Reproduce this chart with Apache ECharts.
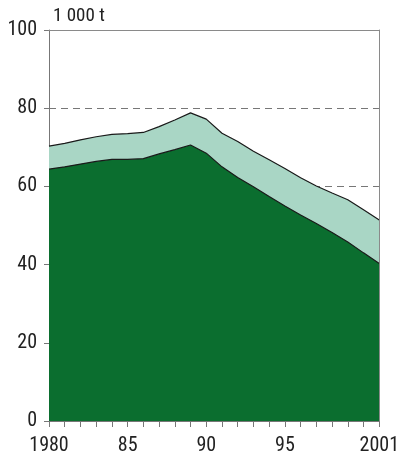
<!DOCTYPE html>
<html><head><meta charset="utf-8">
<script src="https://cdn.jsdelivr.net/npm/echarts@6/dist/echarts.min.js"></script>
<style>html,body{margin:0;padding:0;background:#fff}#c{width:402px;height:457px}</style>
</head><body><div id="c"></div>
<script>
const years = [1980,1981,1982,1983,1984,1985,1986,1987,1988,1989,1990,1991,1992,1993,1994,1995,1996,1997,1998,1999,2000,2001];
const lowerValues = [64.4,65.0,65.7,66.4,66.9,66.9,67.1,68.3,69.4,70.6,68.5,65.0,62.3,59.9,57.4,55.0,52.7,50.5,48.2,45.8,43.0,40.3];
const totalValues = [70.3,71.0,71.9,72.7,73.3,73.5,73.8,75.3,77.0,78.8,77.2,73.6,71.5,69.0,66.8,64.6,62.2,60.1,58.3,56.6,54.0,51.4];
const xTickLabels = {1980:'1980',1985:'85',1990:'90',1995:'95',2001:'2001'};
const yTicks = [0,20,40,60,80,100];
const dashedLevels = [20,40,60,80];
const unitLabel = '1 000 t';

const FONT = '"Liberation Sans Narrow","Roboto Condensed","DejaVu Sans Condensed",sans-serif';
const chart = echarts.init(document.getElementById('c'), null, {renderer:'canvas'});
const border = {show:true,onZero:false,lineStyle:{color:'#8a8a8a',width:1}};
chart.setOption({
  animation:false,
  grid:{left:49,right:22,top:30,bottom:36},
  graphic:[{type:'text',left:53,top:7,style:{text:unitLabel,font:'19px '+FONT,fill:'#222'}}],
  xAxis:[{type:'value',min:years[0],max:years[years.length-1],interval:1,
    axisLine:{show:true,onZero:false,lineStyle:{color:'#777',width:1}},
    axisTick:{show:true,length:6,lineStyle:{color:'#777'}},
    splitLine:{show:false},
    axisLabel:{show:true,showMaxLabel:true,showMinLabel:true,margin:15,color:'#222',fontSize:20,fontFamily:FONT,
      formatter:v=>xTickLabels[v]||''}},
    {type:'value',position:'top',min:years[0],max:years[years.length-1],z:5,
     axisLine:border,axisTick:{show:false},axisLabel:{show:false},splitLine:{show:false}}],
  yAxis:[{type:'value',min:yTicks[0],max:yTicks[yTicks.length-1],interval:20,
    axisLine:{show:true,onZero:false,lineStyle:{color:'#777',width:1}},
    axisTick:{show:true,length:5,lineStyle:{color:'#777'}},
    splitLine:{show:false},
    axisLabel:{margin:12,color:'#222',fontSize:20,fontFamily:FONT}},
    {type:'value',position:'right',min:yTicks[0],max:yTicks[yTicks.length-1],z:5,
     axisLine:border,axisTick:{show:false},axisLabel:{show:false},splitLine:{show:false}}],
  series:[
    {type:'line',data:[],z:1,silent:true,
     markLine:{z:1,symbol:'none',silent:true,label:{show:false},
       lineStyle:{color:'#777',type:[7,5],width:1},
       data:dashedLevels.map(v=>({yAxis:v}))}},
    {type:'line',data:years.map((y,i)=>[y,totalValues[i]]),symbol:'none',
     lineStyle:{color:'#1a1a1a',width:1.2},areaStyle:{color:'#a9d6c5',opacity:1},z:2},
    {type:'line',data:years.map((y,i)=>[y,lowerValues[i]]),symbol:'none',
     lineStyle:{color:'#1a1a1a',width:1.2},areaStyle:{color:'#0b6e2f',opacity:1},z:3}
  ]
});
</script></body></html>
